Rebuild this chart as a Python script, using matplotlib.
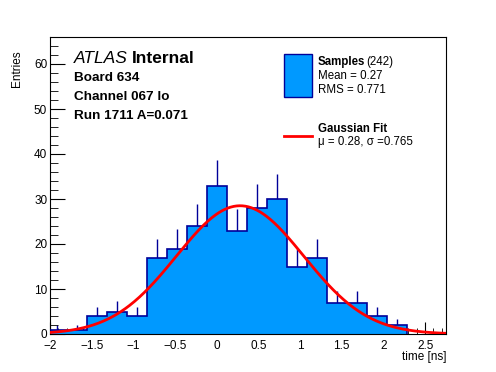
import matplotlib
matplotlib.use('Agg')

import matplotlib.pyplot as plt
import numpy as np
from matplotlib.ticker import MultipleLocator
from matplotlib.patches import Rectangle
from matplotlib.lines import Line2D

# histogram data
bin_edges = -2.04 + 0.24 * np.arange(19)
counts = np.array([1, 1, 4, 5, 4, 17, 19, 24, 33, 23, 28, 30, 15, 17, 7, 7, 4, 2])

# gaussian fit
fit_mu = 0.28
fit_sigma = 0.765
fit_amp = 28.5

W, H = 496, 372
plt.rcParams['font.family'] = ['Liberation Sans', 'DejaVu Sans']

fig = plt.figure(figsize=(W / 100, H / 100), dpi=100)
ax = fig.add_axes([50 / W, 1 - 334 / H, 396 / W, 297 / H])


def px(x, y):
    return x / W, 1 - y / H


fill_col = '#0099ff'
line_col = '#000099'

centers = 0.5 * (bin_edges[:-1] + bin_edges[1:])
err = np.sqrt(counts)
ax.vlines(centers, counts - err, counts + err, color=line_col, lw=1, zorder=1)
ax.stairs(counts, bin_edges, fill=True, color=fill_col, zorder=2)
ax.stairs(counts, bin_edges, color=line_col, lw=1.2, zorder=3)

xs = np.linspace(-2, 2.75, 400)
ax.plot(xs, fit_amp * np.exp(-0.5 * ((xs - fit_mu) / fit_sigma) ** 2),
        color='red', lw=2, zorder=4)

ax.set_xlim(-2, 2.75)
ax.set_ylim(0, 66)
ax.xaxis.set_major_locator(MultipleLocator(0.5))
ax.xaxis.set_minor_locator(MultipleLocator(0.1))
ax.yaxis.set_major_locator(MultipleLocator(10))
ax.yaxis.set_minor_locator(MultipleLocator(2))
ax.tick_params(which='both', direction='in', top=False, right=False, labelsize=8.5)
ax.tick_params(axis='x', which='major', length=9)
ax.tick_params(axis='x', which='minor', length=4.5)
ax.tick_params(axis='y', which='major', length=11)
ax.tick_params(axis='y', which='minor', length=5.5)
ax.tick_params(axis='x', pad=4.5)
ax.tick_params(axis='y', pad=2)
ax.set_xticks([-2, -1.5, -1, -0.5, 0, 0.5, 1, 1.5, 2, 2.5])
ax.set_xticklabels(['\u22122', '\u22121.5', '\u22121', '\u22120.5', '0', '0.5', '1', '1.5', '2', '2.5'])
ax.get_yticklabels()[0].set_va('bottom')

fig.text(*px(446, 360), 'time [ns]', ha='right', va='baseline', fontsize=8.5)
fig.text(*px(17, 50), 'Entries', rotation=90, ha='center', va='top', fontsize=8.5)

# ATLAS label block
fig.text(*px(74, 63), 'ATLAS', style='italic', fontsize=12.5, va='baseline')
fig.text(*px(132, 63), 'Internal', weight='bold', fontsize=12.5, va='baseline')
fig.text(*px(74, 81), 'Board 634', weight='bold', fontsize=9.7, va='baseline')
fig.text(*px(74, 100), 'Channel 067 lo', weight='bold', fontsize=9.7, va='baseline')
fig.text(*px(74, 119), 'Run 1711 A=0.071', weight='bold', fontsize=9.7, va='baseline')

# legend
x0, y0 = px(283.5, 96.5)
x1, y1 = px(311.5, 53.5)
fig.patches.append(Rectangle((x0, y0), x1 - x0, y1 - y0, transform=fig.transFigure,
                             facecolor=fill_col, edgecolor=line_col, lw=1))
fig.text(*px(318, 65), 'Samples', weight='bold', fontsize=8.3, va='baseline')
fig.text(*px(366, 65), '(242)', fontsize=8.3, va='baseline')
fig.text(*px(318, 79), 'Mean = 0.27', fontsize=8.3, va='baseline')
fig.text(*px(318, 93), 'RMS = 0.771', fontsize=8.3, va='baseline')

lx0, ly = px(283.5, 136)
lx1, _ = px(311.5, 136)
fig.lines.append(Line2D([lx0, lx1], [ly, ly], transform=fig.transFigure, color='red', lw=2))
fig.text(*px(318, 132.5), 'Gaussian Fit', weight='bold', fontsize=8.3, va='baseline')
fig.text(*px(318, 145), '\u03bc = 0.28, \u03c3 =0.765', fontsize=8.3, va='baseline')

fig.savefig('out.png', dpi=100)
